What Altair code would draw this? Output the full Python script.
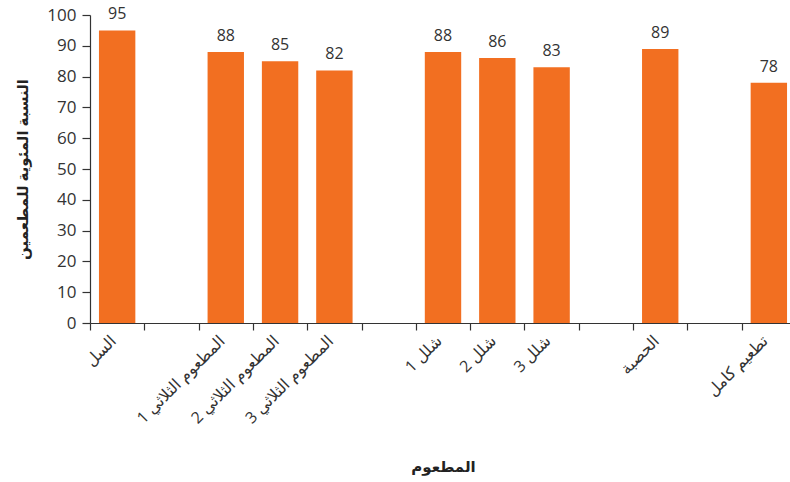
import altair as alt
import pandas as pd

categories = ["السل", " ", "المطعوم الثلاثي 1", "المطعوم الثلاثي 2", "المطعوم الثلاثي 3", "  ",
              "شلل 1", "شلل 2", "شلل 3", "   ", "الحصبة", "    ", "تطعيم كامل"]
values = [95, None, 88, 85, 82, None, 88, 86, 83, None, 89, None, 78]
x_title = "المطعوم"
y_title = "النسبة المئوية للمطعمين"
y_ticks = [0, 10, 20, 30, 40, 50, 60, 70, 80, 90, 100]

df = pd.DataFrame({"cat": categories, "val": values})

FONT = "Open Sans, DejaVu Sans, sans-serif"
STEP = 706 / 13

x_enc = alt.X("cat:N", sort=categories, title=x_title,
              scale=alt.Scale(paddingInner=0.33, paddingOuter=0.165, range=[0, 706]),
              axis=alt.Axis(labelAngle=-45, labelAlign="right", labelBaseline="middle",
                            tickOffset=-STEP / 2, labelOffset=STEP / 2 - 4,
                            labelFontSize=16, labelColor="#333333",
                            labelPadding=8, tickSize=7, tickColor="#333333", tickWidth=1.2,
                            domainColor="#333333", domainWidth=1.2, titleFontSize=15,
                            titleFontWeight="bold", labelOverlap=False,
                            titleY=143, titleBaseline="middle",
                            titleColor="#222222", labelFont=FONT, titleFont=FONT))

y_enc = alt.Y("val:Q", title=y_title, scale=alt.Scale(domain=[0, 100]),
              axis=alt.Axis(values=y_ticks, grid=False, tickSize=8, labelOverlap=False,
                            tickCount=20,
                            tickColor="#333333", domainColor="#333333", tickWidth=1.2,
                            domainWidth=1.2, labelFontSize=17,
                            labelColor="#333333", labelPadding=6, titleFontSize=15,
                            titleFontWeight="bold", titleColor="#222222", titlePadding=16,
                            labelFont=FONT, titleFont=FONT))

bars = alt.Chart(df).mark_bar(color="#F26F21").encode(x=x_enc, y=y_enc)

text = alt.Chart(df).mark_text(dy=-16, fontSize=16, color="#333333", font=FONT).encode(
    x=x_enc,
    y=y_enc,
    text=alt.Text("val:Q"),
)

chart = (bars + text).properties(
    width=700, height=308,
    autosize=alt.AutoSizeParams(type="none"),
    padding={"left": 90, "top": 15, "right": 0, "bottom": 159},
).configure(background="white", view=alt.ViewConfig(stroke=None))

chart.save("out.html", embed_options={"renderer": "svg", "actions": False})
